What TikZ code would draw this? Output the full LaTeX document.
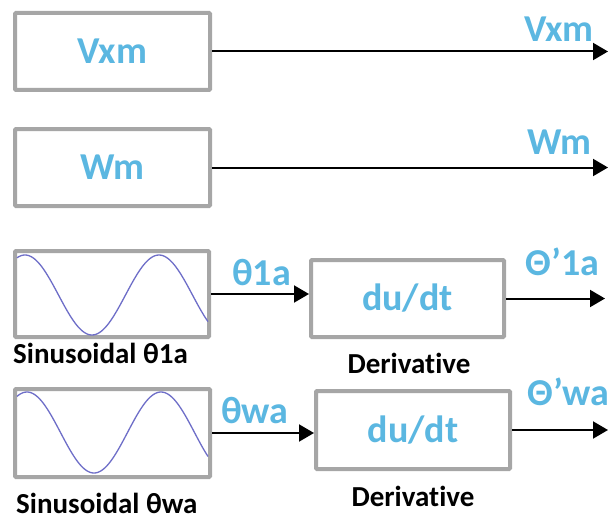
\documentclass[tikz,border=0pt]{standalone}
\usepackage{fontspec}
\setmainfont{Carlito}[Ligatures=NoCommon]
\usetikzlibrary{arrows.meta}
\definecolor{txtblue}{RGB}{91,183,225}
\definecolor{boxgray}{RGB}{166,166,166}
\definecolor{sinecol}{RGB}{110,110,200}
\tikzset{
  blockbox/.style={draw=boxgray, line width=4pt, fill=white, inner sep=0pt, rounded corners=1pt,
    font=\fontsize{38}{44}\selectfont\bfseries, text=txtblue},
  bluelabel/.style={font=\fontsize{38}{44}\selectfont\bfseries, text=txtblue, inner sep=0pt},
  blacklabel/.style={font=\fontsize{29}{34}\selectfont\bfseries, text=black, inner sep=0pt},
  sigarrow/.style={line width=2pt, -{Triangle[length=15pt,width=17pt]}},
  sinecurve/.style={draw=sinecol, line width=1.3pt}
}
\begin{document}
\begin{tikzpicture}[x=1pt,y=-1pt]
\useasboundingbox (0,0) rectangle (608,519);
% row 1
\node[blockbox, minimum width=195pt, minimum height=77pt] (b1) at (112.5,51.5) {Vxm};
\coordinate (o1) at (608,51.5);
\draw[sigarrow] (b1.east) -- (o1);
\node[bluelabel, anchor=base east] (l1) at (594,42) {Vxm};
% row 2
\node[blockbox, minimum width=195pt, minimum height=77pt] (b2) at (112.5,167.5) {Wm};
\coordinate (o2) at (608,167.5);
\draw[sigarrow] (b2.east) -- (o2);
\node[bluelabel, anchor=base east] (l2) at (592,154) {Wm};
% row 3
\node[blockbox, minimum width=194pt, minimum height=86pt] (s1) at (112,294) {};
\draw[sinecurve] plot[domain=17:208, samples=120] (\x, {295-40*cos(2.6866*(\x-25))});
\node[blockbox, minimum width=193pt, minimum height=77pt] (d1) at (407.5,298.5) {du/dt};
\draw[sigarrow] (s1.east) -- (s1.east -| d1.west);
\coordinate (o3) at (605,298.5);
\draw[sigarrow] (d1.east) -- (o3);
\node[bluelabel, anchor=base west] (l3a) at (232,285) {θ1a};
\node[bluelabel, anchor=base west] (l3b) at (525,275) {Θ’1a};
\node[blacklabel, anchor=base west] (c3a) at (13,363) {Sinusoidal θ1a};
\node[blacklabel, anchor=base] (c3b) at (409,373) {Derivative};
% row 4
\node[blockbox, minimum width=195pt, minimum height=88pt] (s2) at (112.5,433) {};
\draw[sinecurve] plot[domain=17:208, samples=120] (\x, {432.5-40.5*cos(2.6866*(\x-27))});
\node[blockbox, minimum width=194pt, minimum height=78pt] (d2) at (413,430) {du/dt};
\draw[sigarrow] (s2.east) -- (s2.east -| d2.west);
\coordinate (o4) at (608,430);
\draw[sigarrow] (d2.east) -- (o4);
\node[bluelabel, anchor=base west] (l4a) at (221,423) {θwa};
\node[bluelabel, anchor=base west] (l4b) at (527,405) {Θ’wa};
\node[blacklabel, anchor=base west] (c4a) at (16,513) {Sinusoidal θwa};
\node[blacklabel, anchor=base] (c4b) at (413,506) {Derivative};
\end{tikzpicture}
\end{document}
